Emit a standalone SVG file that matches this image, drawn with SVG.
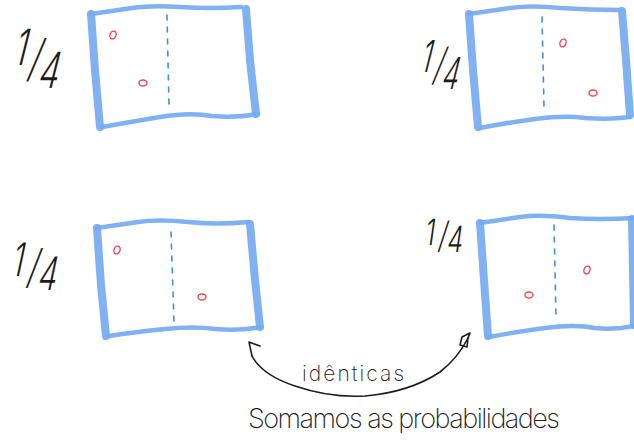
<svg xmlns="http://www.w3.org/2000/svg" width="634" height="441" viewBox="0 0 634 441">
  <style>
    .edge { fill: none; stroke: #72aaf2; stroke-opacity: 0.9; stroke-linecap: round; stroke-linejoin: round; }
    .side { stroke-width: 8; }
    .rim { stroke-width: 4.5; }
    .split { fill: none; stroke: #3f8fe8; stroke-width: 1.6; stroke-dasharray: 5 7; stroke-linecap: round; }
    .dot { fill: none; stroke: #f0464a; stroke-width: 1.4; }
    .hand { font-family: Inter, "Open Sans", "Liberation Sans", sans-serif; font-weight: 200; fill: #1c1c1c; }
    .frac { font-weight: 300; }
    .ink { fill: none; stroke: #1c1c1c; stroke-width: 1.6; stroke-linecap: round; stroke-linejoin: round; }
  </style>
  <rect width="634" height="441" fill="#ffffff"/>

  <!-- top-left panel -->
  <g id="panel-a">
    <path class="edge side" d="M91,14 L95,70 L100,127"/>
    <path class="edge rim" d="M91,14 Q112,11 132,8 T180,7 Q210,9 241,7"/>
    <path class="edge side" d="M246,9 L250,60 L256,114"/>
    <path class="edge rim" d="M102,127 Q130,122 160,117 T212,116 Q236,118 258,114"/>
    <path class="split" d="M167,15 L169,107"/>
    <ellipse class="dot" cx="113" cy="35" rx="3" ry="4" transform="rotate(20 113 35)"/>
    <ellipse class="dot" cx="143" cy="83" rx="4" ry="3"/>
    <text class="hand frac" font-size="50" transform="translate(12,65) skewX(-14) scale(0.65,1)"><tspan x="0" y="0">1</tspan><tspan x="27" y="11">/</tspan><tspan x="46" y="23">4</tspan></text>
  </g>

  <!-- top-right panel -->
  <g id="panel-b">
    <path class="edge side" d="M469,14 L473,70 L478,127"/>
    <path class="edge rim" d="M469,14 Q490,11 510,8 T560,8 Q590,10 620,10"/>
    <path class="edge side" d="M622,11 L626,60 L630,115"/>
    <path class="edge rim" d="M480,128 Q505,123 535,119 T585,118 Q610,120 630,117"/>
    <path class="split" d="M542,17 L544,108"/>
    <ellipse class="dot" cx="563" cy="43" rx="3" ry="4" transform="rotate(20 563 43)"/>
    <ellipse class="dot" cx="593" cy="93" rx="4" ry="3"/>
    <text class="hand frac" font-size="44" transform="translate(419,72) skewX(-14) scale(0.6,1)"><tspan x="0" y="0">1</tspan><tspan x="25" y="8">/</tspan><tspan x="42" y="17">4</tspan></text>
  </g>

  <!-- bottom-left panel -->
  <g id="panel-c">
    <path class="edge side" d="M97,228 L101,285 L106,336"/>
    <path class="edge rim" d="M97,228 Q118,225 138,222 T188,222 Q218,225 248,222"/>
    <path class="edge side" d="M250,224 L255,280 L260,327"/>
    <path class="edge rim" d="M109,336 Q135,332 165,329 T215,329 Q240,331 261,327"/>
    <path class="split" d="M171,232 L174,322"/>
    <ellipse class="dot" cx="117" cy="250" rx="3" ry="4" transform="rotate(20 117 250)"/>
    <ellipse class="dot" cx="202" cy="297" rx="4" ry="3"/>
    <text class="hand frac" font-size="46" transform="translate(10,276) skewX(-12) scale(0.65,1)"><tspan x="0" y="0">1</tspan><tspan x="27" y="7">/</tspan><tspan x="45" y="14">4</tspan></text>
  </g>

  <!-- bottom-right panel -->
  <g id="panel-d">
    <path class="edge side" d="M480,223 L484,280 L488,336"/>
    <path class="edge rim" d="M480,223 Q500,220 520,217 T570,218 Q600,220 634,218"/>
    <path class="edge side" d="M632,219 L633,270 L634,325"/>
    <path class="edge rim" d="M489,337 Q515,332 545,328 T595,328 Q615,330 634,326"/>
    <path class="split" d="M554,225 L556,317"/>
    <ellipse class="dot" cx="587" cy="270" rx="3" ry="4" transform="rotate(20 587 270)"/>
    <ellipse class="dot" cx="529" cy="295" rx="4" ry="3"/>
    <text class="hand frac" font-size="36" transform="translate(424,245) skewX(-8) scale(0.7,1)"><tspan x="0" y="0">1</tspan><tspan x="20" y="3">/</tspan><tspan x="33" y="7">4</tspan></text>
  </g>

  <!-- connector between the two matching panels -->
  <g id="connectors">
    <path class="ink" d="M252,356 Q262,375 295,386 Q330,398 365,396 Q410,392 440,372 Q458,358 468,338"/>
    <path class="ink" d="M252,356 L249,342 L260,346"/>
    <path class="ink" d="M468,338 L470,333 L462,337 L460,345 L467,347 L468,338"/>
  </g>

  <text class="hand" x="302" y="381" font-size="21" textLength="102" lengthAdjust="spacing">idênticas</text>
  <text class="hand" x="248" y="428" font-size="27" textLength="312" lengthAdjust="spacing">Somamos as probabilidades</text>
</svg>
